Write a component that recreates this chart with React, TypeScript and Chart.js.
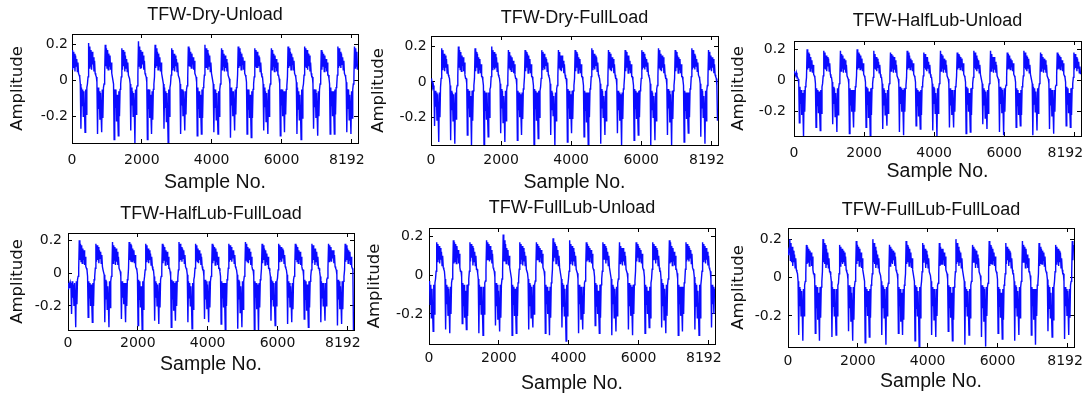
import React, { useEffect, useRef } from 'react';
import { Chart, registerables } from 'chart.js';

Chart.register(...registerables);

// ---------- data ----------
const sampleStep = 17; // samples between stored points
const xTickValues = [0, 2000, 4000, 6000, 8000];
const xTickLabels = ['0', '2000', '4000', '6000', '8192'];
const yTickValues = [-0.2, 0, 0.2];
const yTickLabels = ['-0.2', '0', '0.2'];
const panelTitles = [
  'TFW-Dry-Unload',
  'TFW-Dry-FullLoad',
  'TFW-HalfLub-Unload',
  'TFW-HalfLub-FullLoad',
  'TFW-FullLub-Unload',
  'TFW-FullLub-FullLoad',
];
const xAxisTitle = 'Sample No.';
const yAxisTitle = 'Amplitude';

const dryUnload = [
  0.17, 0.06, 0.16, 0.07, 0.15, 0.05, 0.14, 0.08, 0.12, 0.05, 0.10, 0.04, 0.03, 0.02, -0.02, -0.27, -0.04, -0.14, -0.05, -0.20, -0.06, -0.17, -0.29, -0.05, -0.19, -0.04, -0.02,
  0.02, 0.21, 0.07, 0.19, 0.08, 0.17, 0.06, 0.16, 0.09, 0.13, 0.05, 0.11, 0.04, 0.03, 0.02, -0.01, -0.30, -0.04, -0.16, -0.06, -0.22, -0.07, -0.19, -0.29, -0.05, -0.21, -0.04, -0.02,
  0.03, 0.20, 0.08, 0.18, 0.07, 0.17, 0.06, 0.15, 0.08, 0.14, 0.06, 0.10, 0.04, 0.02, 0.02, -0.02, -0.33, -0.05, -0.15, -0.05, -0.23, -0.08, -0.18, -0.31, -0.06, -0.20, -0.05, -0.02,
  0.02, 0.18, 0.06, 0.17, 0.08, 0.16, 0.05, 0.14, 0.07, 0.12, 0.05, 0.10, 0.03, 0.03, 0.01, -0.02, -0.28, -0.04, -0.14, -0.06, -0.20, -0.07, -0.17, -0.35, -0.05, -0.19, -0.04, -0.03,
  0.03, 0.22, 0.08, 0.19, 0.07, 0.17, 0.07, 0.16, 0.09, 0.14, 0.06, 0.11, 0.04, 0.03, 0.02, -0.01, -0.33, -0.05, -0.16, -0.05, -0.21, -0.08, -0.19, -0.30, -0.06, -0.22, -0.05, -0.02,
  0.02, 0.20, 0.07, 0.18, 0.08, 0.16, 0.06, 0.15, 0.08, 0.13, 0.05, 0.10, 0.04, 0.02, 0.02, -0.02, -0.27, -0.04, -0.15, -0.06, -0.23, -0.07, -0.18, -0.35, -0.05, -0.20, -0.04, -0.02,
  0.03, 0.18, 0.06, 0.17, 0.07, 0.15, 0.05, 0.14, 0.08, 0.12, 0.05, 0.10, 0.03, 0.03, 0.01, -0.02, -0.30, -0.05, -0.14, -0.05, -0.20, -0.06, -0.17, -0.28, -0.06, -0.19, -0.05, -0.03,
  0.02, 0.19, 0.08, 0.18, 0.08, 0.16, 0.07, 0.15, 0.09, 0.13, 0.06, 0.11, 0.04, 0.03, 0.02, -0.01, -0.31, -0.04, -0.16, -0.06, -0.21, -0.08, -0.18, -0.30, -0.05, -0.21, -0.04, -0.02,
  0.03, 0.20, 0.07, 0.18, 0.07, 0.17, 0.06, 0.15, 0.08, 0.14, 0.05, 0.10, 0.04, 0.02, 0.02, -0.02, -0.29, -0.05, -0.15, -0.05, -0.22, -0.07, -0.19, -0.30, -0.06, -0.20, -0.05, -0.02,
  0.02, 0.18, 0.06, 0.17, 0.08, 0.15, 0.05, 0.14, 0.07, 0.12, 0.05, 0.10, 0.03, 0.03, 0.01, -0.02, -0.32, -0.04, -0.14, -0.06, -0.20, -0.06, -0.17, -0.28, -0.05, -0.19, -0.04, -0.03,
  0.03, 0.19, 0.07, 0.18, 0.08, 0.16, 0.06, 0.15, 0.09, 0.13, 0.06, 0.11, 0.04, 0.03, 0.02, -0.01, -0.30, -0.05, -0.16, -0.05, -0.21, -0.08, -0.18, -0.32, -0.06, -0.21, -0.05, -0.02,
  0.02, 0.18, 0.08, 0.17, 0.07, 0.16, 0.07, 0.14, 0.08, 0.13, 0.05, 0.10, 0.04, 0.02, 0.02, -0.02, -0.28, -0.04, -0.15, -0.06, -0.23, -0.07, -0.19, -0.30, -0.05, -0.20, -0.04, -0.02,
  0.03, 0.18, 0.06, 0.17, 0.08, 0.15, 0.05, 0.14, 0.07, 0.12, 0.05, 0.10, 0.03, 0.03, 0.01, -0.02, -0.31, -0.05, -0.14, -0.05, -0.20, -0.06, -0.17, -0.29, -0.06, -0.19, -0.05, -0.03,
  0.02, 0.19, 0.07, 0.18, 0.08, 0.16, 0.06, 0.15, 0.09, 0.13, 0.06, 0.11, 0.04, 0.03, 0.02, -0.01, -0.30, -0.04, -0.16, -0.06, -0.22, -0.08, -0.18, -0.33, -0.05, -0.21, -0.04, -0.02,
  0.03, 0.19, 0.08, 0.18, 0.07, 0.17, 0.06, 0.15, 0.08, 0.14, 0.05, 0.10, 0.04, 0.02, 0.02, -0.02, -0.27, -0.05, -0.15, -0.05, -0.21, -0.07, -0.19, -0.31, -0.06, -0.20, -0.05, -0.02,
  0.02, 0.17, 0.06, 0.16, 0.08, 0.15, 0.05, 0.14, 0.07, 0.12, 0.05, 0.10, 0.03, 0.03, 0.01, -0.02, -0.30, -0.04, -0.14, -0.06, -0.20, -0.06, -0.17, -0.30, -0.05, -0.19, -0.04, -0.03,
  0.03, 0.19, 0.07, 0.18, 0.08, 0.16, 0.07, 0.15, 0.09, 0.13, 0.06, 0.11, 0.04, 0.03, 0.02, -0.01, -0.29, -0.05, -0.16, -0.05, -0.22, -0.08, -0.18, -0.30, -0.06, -0.21, -0.05, -0.02,
  0.02, 0.19, 0.07, 0.18, 0.08, 0.16, 0.06,
];

const dryFullLoad = [
  0.02, 0.01, 0.00, -0.03, -0.02, -0.05, -0.25, -0.05, -0.14, -0.06, -0.22, -0.07, -0.18, -0.34, -0.06, -0.20, -0.03,
  0.02, 0.19, 0.07, 0.18, 0.08, 0.16, 0.06, 0.15, 0.08, 0.13, 0.05, 0.10, 0.04, 0.03, 0.02, -0.02, -0.33, -0.05, -0.16, -0.06, -0.22, -0.07, -0.19, -0.35, -0.06, -0.21, -0.04, -0.02,
  0.03, 0.20, 0.08, 0.18, 0.07, 0.17, 0.06, 0.15, 0.09, 0.14, 0.06, 0.11, 0.04, 0.02, 0.02, -0.01, -0.30, -0.04, -0.15, -0.05, -0.20, -0.08, -0.18, -0.36, -0.05, -0.22, -0.05, -0.02,
  0.02, 0.19, 0.06, 0.17, 0.08, 0.16, 0.05, 0.14, 0.07, 0.13, 0.05, 0.10, 0.03, 0.03, 0.01, -0.02, -0.36, -0.05, -0.16, -0.06, -0.21, -0.06, -0.19, -0.31, -0.06, -0.20, -0.04, -0.03,
  0.03, 0.20, 0.07, 0.18, 0.08, 0.17, 0.07, 0.16, 0.08, 0.14, 0.06, 0.11, 0.04, 0.03, 0.02, -0.01, -0.29, -0.04, -0.15, -0.05, -0.23, -0.08, -0.18, -0.34, -0.05, -0.22, -0.05, -0.02,
  0.02, 0.18, 0.08, 0.17, 0.07, 0.15, 0.06, 0.14, 0.08, 0.12, 0.05, 0.10, 0.04, 0.02, 0.02, -0.02, -0.33, -0.05, -0.16, -0.06, -0.20, -0.07, -0.19, -0.30, -0.06, -0.21, -0.04, -0.02,
  0.03, 0.18, 0.06, 0.17, 0.08, 0.16, 0.05, 0.15, 0.07, 0.13, 0.05, 0.10, 0.03, 0.03, 0.01, -0.02, -0.36, -0.04, -0.15, -0.05, -0.22, -0.06, -0.18, -0.32, -0.05, -0.20, -0.05, -0.03,
  0.02, 0.18, 0.07, 0.17, 0.08, 0.16, 0.07, 0.14, 0.09, 0.13, 0.06, 0.11, 0.04, 0.03, 0.02, -0.01, -0.30, -0.05, -0.16, -0.06, -0.19, -0.08, -0.19, -0.36, -0.06, -0.22, -0.04, -0.02,
  0.03, 0.18, 0.08, 0.17, 0.07, 0.15, 0.06, 0.15, 0.08, 0.12, 0.05, 0.10, 0.04, 0.02, 0.02, -0.02, -0.34, -0.04, -0.15, -0.05, -0.21, -0.07, -0.18, -0.29, -0.05, -0.21, -0.05, -0.02,
  0.02, 0.18, 0.06, 0.17, 0.08, 0.16, 0.05, 0.14, 0.07, 0.13, 0.05, 0.10, 0.03, 0.03, 0.01, -0.02, -0.31, -0.05, -0.16, -0.06, -0.23, -0.06, -0.19, -0.36, -0.06, -0.20, -0.04, -0.03,
  0.03, 0.19, 0.07, 0.18, 0.08, 0.16, 0.07, 0.15, 0.09, 0.14, 0.06, 0.11, 0.04, 0.03, 0.02, -0.01, -0.35, -0.04, -0.15, -0.05, -0.20, -0.08, -0.18, -0.30, -0.05, -0.22, -0.05, -0.02,
  0.02, 0.18, 0.08, 0.17, 0.07, 0.16, 0.06, 0.14, 0.08, 0.13, 0.05, 0.10, 0.04, 0.02, 0.02, -0.02, -0.29, -0.05, -0.16, -0.06, -0.22, -0.07, -0.19, -0.36, -0.06, -0.21, -0.04, -0.02,
  0.03, 0.18, 0.06, 0.17, 0.08, 0.15, 0.05, 0.15, 0.07, 0.12, 0.05, 0.10, 0.03, 0.03, 0.01, -0.02, -0.33, -0.04, -0.15, -0.05, -0.21, -0.06, -0.18, -0.30, -0.05, -0.20, -0.05, -0.03,
  0.02, 0.18, 0.07, 0.17, 0.08, 0.16, 0.07, 0.14, 0.09, 0.13, 0.06, 0.11, 0.04, 0.03, 0.02, -0.01, -0.36, -0.05, -0.16, -0.06, -0.20, -0.08, -0.19, -0.33, -0.06, -0.22, -0.04, -0.02,
  0.03, 0.19, 0.08, 0.18, 0.07, 0.16, 0.06, 0.15, 0.08, 0.14, 0.05, 0.10, 0.04, 0.02, 0.02, -0.02, -0.30, -0.04, -0.15, -0.05, -0.23, -0.07, -0.18, -0.36, -0.05, -0.21, -0.05, -0.02,
  0.02, 0.18, 0.06, 0.17, 0.08, 0.15, 0.05, 0.14, 0.07, 0.13, 0.05, 0.10, 0.03, 0.03, 0.01, -0.02, -0.34, -0.05, -0.16, -0.06, -0.21, -0.06, -0.19, -0.29, -0.06, -0.20, -0.04, -0.03,
  0.03, 0.19, 0.07, 0.18, 0.08, 0.16, 0.07, 0.15, 0.09, 0.13, 0.06, 0.11, 0.04, 0.03, 0.02, -0.01, -0.31, -0.04, -0.15, -0.05, -0.20, -0.08, -0.18, -0.35, -0.05, -0.22, -0.05, -0.02,
  0.02, 0.18, 0.07, 0.17, 0.08, 0.15, 0.06, 0.14, 0.08, 0.13, 0.05, 0.10, 0.04, 0.03, 0.02, -0.02, -0.22,
];

const halfLubUnload = [
  0.06, 0.05, 0.04, 0.03, 0.05, 0.03, 0.02, 0.01, -0.02, -0.27, -0.04, -0.15, -0.06, -0.22, -0.08, -0.19, -0.36, -0.06, -0.20, -0.04, -0.02,
  0.02, 0.20, 0.07, 0.18, 0.08, 0.17, 0.06, 0.15, 0.08, 0.13, 0.05, 0.10, 0.04, 0.03, 0.02, -0.02, -0.30, -0.05, -0.16, -0.06, -0.21, -0.07, -0.19, -0.32, -0.06, -0.21, -0.04, -0.02,
  0.03, 0.19, 0.08, 0.18, 0.07, 0.16, 0.06, 0.15, 0.09, 0.14, 0.06, 0.11, 0.04, 0.02, 0.02, -0.01, -0.28, -0.04, -0.15, -0.05, -0.23, -0.08, -0.18, -0.33, -0.05, -0.22, -0.05, -0.02,
  0.02, 0.19, 0.06, 0.17, 0.08, 0.16, 0.05, 0.14, 0.07, 0.13, 0.05, 0.10, 0.03, 0.03, 0.01, -0.02, -0.34, -0.05, -0.16, -0.06, -0.20, -0.06, -0.19, -0.30, -0.06, -0.20, -0.04, -0.03,
  0.03, 0.20, 0.07, 0.18, 0.08, 0.17, 0.07, 0.16, 0.08, 0.14, 0.06, 0.11, 0.04, 0.03, 0.02, -0.01, -0.30, -0.04, -0.15, -0.05, -0.24, -0.07, -0.18, -0.35, -0.05, -0.22, -0.05, -0.02,
  0.02, 0.19, 0.08, 0.17, 0.07, 0.15, 0.06, 0.14, 0.08, 0.12, 0.05, 0.10, 0.04, 0.02, 0.02, -0.02, -0.31, -0.05, -0.16, -0.06, -0.22, -0.08, -0.19, -0.29, -0.06, -0.21, -0.04, -0.02,
  0.03, 0.18, 0.06, 0.17, 0.08, 0.16, 0.05, 0.15, 0.07, 0.13, 0.05, 0.10, 0.03, 0.03, 0.01, -0.02, -0.33, -0.04, -0.15, -0.05, -0.20, -0.06, -0.18, -0.35, -0.05, -0.20, -0.05, -0.03,
  0.02, 0.19, 0.07, 0.18, 0.08, 0.16, 0.07, 0.14, 0.09, 0.13, 0.06, 0.11, 0.04, 0.03, 0.02, -0.01, -0.29, -0.05, -0.16, -0.06, -0.23, -0.07, -0.19, -0.31, -0.06, -0.22, -0.04, -0.02,
  0.03, 0.18, 0.08, 0.17, 0.07, 0.15, 0.06, 0.15, 0.08, 0.12, 0.05, 0.10, 0.04, 0.02, 0.02, -0.02, -0.32, -0.04, -0.15, -0.05, -0.21, -0.08, -0.18, -0.36, -0.05, -0.21, -0.05, -0.02,
  0.02, 0.19, 0.06, 0.17, 0.08, 0.16, 0.05, 0.14, 0.07, 0.13, 0.05, 0.10, 0.03, 0.03, 0.01, -0.02, -0.30, -0.05, -0.16, -0.06, -0.22, -0.06, -0.19, -0.30, -0.06, -0.20, -0.04, -0.03,
  0.03, 0.18, 0.07, 0.17, 0.08, 0.16, 0.07, 0.15, 0.09, 0.14, 0.06, 0.11, 0.04, 0.03, 0.02, -0.01, -0.34, -0.04, -0.15, -0.05, -0.20, -0.08, -0.18, -0.33, -0.05, -0.22, -0.05, -0.02,
  0.02, 0.19, 0.08, 0.18, 0.07, 0.16, 0.06, 0.14, 0.08, 0.13, 0.05, 0.10, 0.04, 0.02, 0.02, -0.02, -0.28, -0.05, -0.16, -0.06, -0.24, -0.07, -0.19, -0.31, -0.06, -0.21, -0.04, -0.02,
  0.03, 0.19, 0.06, 0.17, 0.08, 0.15, 0.05, 0.15, 0.07, 0.12, 0.05, 0.10, 0.03, 0.03, 0.01, -0.02, -0.33, -0.04, -0.15, -0.05, -0.21, -0.06, -0.18, -0.35, -0.05, -0.20, -0.05, -0.03,
  0.02, 0.18, 0.07, 0.17, 0.08, 0.16, 0.07, 0.14, 0.09, 0.13, 0.06, 0.11, 0.04, 0.03, 0.02, -0.01, -0.30, -0.05, -0.16, -0.06, -0.22, -0.08, -0.19, -0.29, -0.06, -0.22, -0.04, -0.02,
  0.03, 0.19, 0.08, 0.18, 0.07, 0.16, 0.06, 0.15, 0.08, 0.14, 0.05, 0.10, 0.04, 0.02, 0.02, -0.02, -0.35, -0.04, -0.15, -0.05, -0.20, -0.07, -0.18, -0.32, -0.05, -0.21, -0.05, -0.02,
  0.02, 0.18, 0.06, 0.17, 0.08, 0.15, 0.05, 0.14, 0.07, 0.13, 0.05, 0.10, 0.03, 0.03, 0.01, -0.02, -0.31, -0.05, -0.16, -0.06, -0.23, -0.06, -0.19, -0.34, -0.06, -0.20, -0.04, -0.03,
  0.03, 0.18, 0.07, 0.17, 0.08, 0.16, 0.07, 0.15, 0.09, 0.13, 0.06, 0.11, 0.04, 0.03, 0.02, -0.01, -0.29, -0.04, -0.15, -0.05, -0.21, -0.08, -0.18, -0.30, -0.05, -0.22, -0.05, -0.02,
  0.02, 0.18, 0.07, 0.17, 0.08, 0.15, 0.06, 0.14, 0.08, 0.12, 0.05, 0.09, 0.04,
];

const halfLubFullLoad = [
  -0.06, -0.10, -0.07, -0.09, -0.06, -0.08, -0.25, -0.05, -0.15, -0.07, -0.20, -0.06, -0.17, -0.33, -0.05, -0.19, -0.04, -0.02,
  0.02, 0.20, 0.08, 0.18, 0.07, 0.17, 0.06, 0.15, 0.08, 0.14, 0.05, 0.10, 0.04, 0.03, 0.02, -0.02, -0.27, -0.05, -0.15, -0.06, -0.20, -0.07, -0.18, -0.30, -0.06, -0.20, -0.04, -0.02,
  0.03, 0.18, 0.07, 0.17, 0.08, 0.16, 0.06, 0.14, 0.09, 0.13, 0.06, 0.11, 0.04, 0.02, 0.02, -0.01, -0.30, -0.04, -0.16, -0.05, -0.22, -0.08, -0.19, -0.33, -0.05, -0.21, -0.05, -0.02,
  0.02, 0.19, 0.06, 0.17, 0.08, 0.16, 0.05, 0.15, 0.07, 0.13, 0.05, 0.10, 0.03, 0.03, 0.01, -0.02, -0.28, -0.05, -0.15, -0.06, -0.19, -0.06, -0.18, -0.30, -0.06, -0.20, -0.04, -0.03,
  0.03, 0.19, 0.08, 0.18, 0.07, 0.17, 0.07, 0.15, 0.08, 0.14, 0.06, 0.11, 0.04, 0.03, 0.02, -0.01, -0.32, -0.04, -0.16, -0.05, -0.21, -0.08, -0.19, -0.36, -0.05, -0.22, -0.05, -0.02,
  0.02, 0.18, 0.07, 0.17, 0.08, 0.15, 0.06, 0.14, 0.08, 0.12, 0.05, 0.10, 0.04, 0.02, 0.02, -0.02, -0.29, -0.05, -0.15, -0.06, -0.20, -0.07, -0.18, -0.31, -0.06, -0.21, -0.04, -0.02,
  0.03, 0.18, 0.06, 0.17, 0.08, 0.16, 0.05, 0.14, 0.07, 0.13, 0.05, 0.10, 0.03, 0.03, 0.01, -0.02, -0.33, -0.04, -0.16, -0.05, -0.23, -0.06, -0.19, -0.29, -0.05, -0.20, -0.05, -0.03,
  0.02, 0.19, 0.07, 0.18, 0.08, 0.16, 0.07, 0.15, 0.09, 0.14, 0.06, 0.11, 0.04, 0.03, 0.02, -0.01, -0.30, -0.05, -0.15, -0.06, -0.20, -0.08, -0.18, -0.34, -0.06, -0.22, -0.04, -0.02,
  0.03, 0.18, 0.08, 0.17, 0.07, 0.15, 0.06, 0.14, 0.08, 0.12, 0.05, 0.10, 0.04, 0.02, 0.02, -0.02, -0.28, -0.04, -0.16, -0.05, -0.22, -0.07, -0.19, -0.30, -0.05, -0.21, -0.05, -0.02,
  0.02, 0.18, 0.06, 0.17, 0.08, 0.16, 0.05, 0.15, 0.07, 0.13, 0.05, 0.10, 0.03, 0.03, 0.01, -0.02, -0.31, -0.05, -0.15, -0.06, -0.21, -0.06, -0.18, -0.35, -0.06, -0.20, -0.04, -0.03,
  0.03, 0.18, 0.07, 0.17, 0.08, 0.16, 0.07, 0.14, 0.09, 0.14, 0.06, 0.11, 0.04, 0.03, 0.02, -0.01, -0.34, -0.04, -0.16, -0.05, -0.24, -0.08, -0.19, -0.33, -0.05, -0.22, -0.05, -0.02,
  0.02, 0.19, 0.08, 0.18, 0.07, 0.16, 0.06, 0.15, 0.08, 0.13, 0.05, 0.10, 0.04, 0.02, 0.02, -0.02, -0.35, -0.05, -0.15, -0.06, -0.22, -0.07, -0.18, -0.36, -0.06, -0.21, -0.04, -0.02,
  0.03, 0.18, 0.06, 0.17, 0.08, 0.15, 0.05, 0.14, 0.07, 0.12, 0.05, 0.10, 0.03, 0.03, 0.01, -0.02, -0.29, -0.04, -0.16, -0.05, -0.20, -0.06, -0.19, -0.32, -0.05, -0.20, -0.05, -0.03,
  0.02, 0.18, 0.07, 0.17, 0.08, 0.16, 0.07, 0.15, 0.09, 0.14, 0.06, 0.11, 0.04, 0.03, 0.02, -0.01, -0.31, -0.05, -0.15, -0.06, -0.21, -0.08, -0.18, -0.30, -0.06, -0.22, -0.04, -0.02,
  0.03, 0.18, 0.08, 0.17, 0.07, 0.16, 0.06, 0.14, 0.08, 0.13, 0.05, 0.10, 0.04, 0.02, 0.02, -0.02, -0.28, -0.04, -0.16, -0.05, -0.23, -0.07, -0.19, -0.33, -0.05, -0.21, -0.05, -0.02,
  0.02, 0.18, 0.06, 0.17, 0.08, 0.15, 0.05, 0.15, 0.07, 0.13, 0.05, 0.10, 0.03, 0.03, 0.01, -0.02, -0.30, -0.05, -0.15, -0.06, -0.20, -0.06, -0.18, -0.29, -0.06, -0.20, -0.04, -0.03,
  0.03, 0.18, 0.07, 0.17, 0.08, 0.16, 0.07, 0.14, 0.09, 0.14, 0.06, 0.11, 0.04, 0.03, 0.02, -0.01, -0.32, -0.04, -0.16, -0.05, -0.22, -0.08, -0.19, -0.31, -0.05, -0.22, -0.05, -0.02,
  0.02, 0.18, 0.07, 0.17, 0.08, 0.15, 0.06, 0.14, 0.08, 0.13, 0.05, 0.10, 0.04, 0.03, 0.02, -0.36,
];

const fullLubUnload = [
  -0.03, -0.06, -0.15, -0.05, -0.22, -0.07, -0.18, -0.29, -0.05, -0.20, -0.04, -0.02,
  0.02, 0.17, 0.07, 0.16, 0.08, 0.15, 0.06, 0.14, 0.08, 0.12, 0.05, 0.10, 0.04, 0.03, 0.02, -0.02, -0.28, -0.05, -0.15, -0.06, -0.21, -0.07, -0.18, -0.30, -0.06, -0.20, -0.04, -0.02,
  0.03, 0.18, 0.06, 0.17, 0.07, 0.16, 0.06, 0.15, 0.09, 0.13, 0.06, 0.11, 0.04, 0.02, 0.02, -0.01, -0.25, -0.04, -0.16, -0.05, -0.22, -0.08, -0.19, -0.28, -0.05, -0.21, -0.05, -0.02,
  0.02, 0.17, 0.07, 0.16, 0.09, 0.15, 0.05, 0.14, 0.07, 0.12, 0.05, 0.10, 0.03, 0.03, 0.01, -0.02, -0.30, -0.05, -0.15, -0.06, -0.20, -0.06, -0.18, -0.31, -0.06, -0.20, -0.04, -0.03,
  0.03, 0.18, 0.08, 0.17, 0.08, 0.16, 0.07, 0.15, 0.08, 0.13, 0.06, 0.11, 0.04, 0.03, 0.02, -0.01, -0.26, -0.04, -0.16, -0.05, -0.23, -0.08, -0.19, -0.29, -0.05, -0.22, -0.05, -0.02,
  0.02, 0.21, 0.07, 0.18, 0.07, 0.16, 0.06, 0.14, 0.08, 0.13, 0.05, 0.10, 0.04, 0.02, 0.02, -0.02, -0.31, -0.05, -0.15, -0.06, -0.21, -0.07, -0.18, -0.30, -0.06, -0.21, -0.04, -0.02,
  0.03, 0.17, 0.06, 0.16, 0.08, 0.15, 0.05, 0.14, 0.07, 0.12, 0.05, 0.10, 0.03, 0.03, 0.01, -0.02, -0.28, -0.04, -0.16, -0.05, -0.22, -0.06, -0.19, -0.27, -0.05, -0.20, -0.05, -0.03,
  0.02, 0.17, 0.08, 0.16, 0.08, 0.15, 0.07, 0.14, 0.09, 0.13, 0.06, 0.11, 0.04, 0.03, 0.02, -0.01, -0.30, -0.05, -0.15, -0.06, -0.20, -0.08, -0.18, -0.31, -0.06, -0.22, -0.04, -0.02,
  0.03, 0.19, 0.07, 0.17, 0.09, 0.16, 0.06, 0.15, 0.08, 0.13, 0.05, 0.10, 0.04, 0.02, 0.02, -0.02, -0.27, -0.04, -0.16, -0.05, -0.21, -0.07, -0.19, -0.34, -0.05, -0.21, -0.05, -0.02,
  0.02, 0.18, 0.06, 0.16, 0.07, 0.15, 0.05, 0.14, 0.07, 0.12, 0.05, 0.10, 0.03, 0.03, 0.01, -0.02, -0.30, -0.05, -0.15, -0.06, -0.23, -0.06, -0.18, -0.28, -0.06, -0.20, -0.04, -0.03,
  0.03, 0.17, 0.07, 0.16, 0.08, 0.15, 0.07, 0.14, 0.09, 0.13, 0.06, 0.11, 0.04, 0.03, 0.02, -0.01, -0.26, -0.04, -0.16, -0.05, -0.20, -0.08, -0.19, -0.30, -0.05, -0.22, -0.05, -0.02,
  0.02, 0.17, 0.08, 0.16, 0.08, 0.15, 0.06, 0.14, 0.08, 0.12, 0.05, 0.10, 0.04, 0.02, 0.02, -0.02, -0.31, -0.05, -0.15, -0.06, -0.22, -0.07, -0.18, -0.29, -0.06, -0.21, -0.04, -0.02,
  0.03, 0.17, 0.06, 0.15, 0.07, 0.14, 0.05, 0.14, 0.07, 0.12, 0.05, 0.10, 0.03, 0.03, 0.01, -0.02, -0.28, -0.04, -0.16, -0.05, -0.21, -0.06, -0.19, -0.31, -0.05, -0.20, -0.05, -0.03,
  0.02, 0.17, 0.07, 0.16, 0.09, 0.15, 0.07, 0.14, 0.09, 0.13, 0.06, 0.11, 0.04, 0.03, 0.02, -0.01, -0.30, -0.05, -0.15, -0.06, -0.20, -0.08, -0.18, -0.27, -0.06, -0.22, -0.04, -0.02,
  0.03, 0.17, 0.08, 0.16, 0.08, 0.15, 0.06, 0.14, 0.08, 0.13, 0.05, 0.10, 0.04, 0.02, 0.02, -0.02, -0.27, -0.04, -0.16, -0.05, -0.23, -0.07, -0.19, -0.30, -0.05, -0.21, -0.05, -0.02,
  0.02, 0.18, 0.06, 0.17, 0.07, 0.15, 0.05, 0.14, 0.07, 0.12, 0.05, 0.10, 0.03, 0.03, 0.01, -0.02, -0.31, -0.05, -0.15, -0.06, -0.21, -0.06, -0.18, -0.29, -0.06, -0.20, -0.04, -0.03,
  0.03, 0.17, 0.07, 0.16, 0.08, 0.15, 0.07, 0.14, 0.09, 0.13, 0.06, 0.11, 0.04, 0.03, 0.02, -0.01, -0.28, -0.04, -0.16, -0.05, -0.22, -0.08, -0.19, -0.31, -0.05, -0.22, -0.05, -0.02,
  0.02, 0.17, 0.07, 0.16, 0.08, 0.15, 0.06, 0.14, 0.08, 0.12, 0.05, 0.10, 0.04, 0.03, 0.02, -0.02, -0.27, -0.05, -0.15, -0.06, -0.20, -0.07,
];

const fullLubFullLoad = [
  0.12, 0.14,
  0.13, 0.20, 0.09, 0.18, 0.08, 0.16, 0.06, 0.14, 0.08, 0.12, 0.05, 0.10, 0.04, 0.03, 0.02, -0.02, -0.30, -0.05, -0.15, -0.06, -0.20, -0.07, -0.18, -0.33, -0.06, -0.20, -0.04, -0.02,
  0.02, 0.17, 0.07, 0.16, 0.08, 0.15, 0.06, 0.14, 0.09, 0.13, 0.06, 0.11, 0.04, 0.02, 0.02, -0.01, -0.29, -0.04, -0.16, -0.05, -0.22, -0.08, -0.19, -0.33, -0.05, -0.21, -0.05, -0.02,
  0.03, 0.20, 0.08, 0.18, 0.07, 0.17, 0.05, 0.15, 0.07, 0.13, 0.05, 0.10, 0.03, 0.03, 0.01, -0.02, -0.31, -0.05, -0.15, -0.06, -0.20, -0.06, -0.18, -0.30, -0.06, -0.20, -0.04, -0.03,
  0.02, 0.17, 0.06, 0.16, 0.08, 0.15, 0.07, 0.14, 0.08, 0.13, 0.06, 0.11, 0.04, 0.03, 0.02, -0.01, -0.28, -0.04, -0.16, -0.05, -0.23, -0.08, -0.19, -0.33, -0.05, -0.22, -0.05, -0.02,
  0.03, 0.19, 0.07, 0.17, 0.09, 0.16, 0.06, 0.15, 0.08, 0.13, 0.05, 0.10, 0.04, 0.02, 0.02, -0.02, -0.34, -0.05, -0.15, -0.06, -0.20, -0.07, -0.18, -0.31, -0.06, -0.21, -0.04, -0.02,
  0.02, 0.20, 0.08, 0.18, 0.07, 0.16, 0.05, 0.14, 0.07, 0.12, 0.05, 0.10, 0.03, 0.03, 0.01, -0.02, -0.30, -0.04, -0.16, -0.05, -0.21, -0.06, -0.19, -0.35, -0.05, -0.20, -0.05, -0.03,
  0.03, 0.17, 0.06, 0.16, 0.08, 0.15, 0.07, 0.14, 0.09, 0.13, 0.06, 0.11, 0.04, 0.03, 0.02, -0.01, -0.29, -0.05, -0.15, -0.06, -0.23, -0.08, -0.18, -0.30, -0.06, -0.22, -0.04, -0.02,
  0.02, 0.19, 0.07, 0.17, 0.08, 0.16, 0.06, 0.15, 0.08, 0.13, 0.05, 0.10, 0.04, 0.02, 0.02, -0.02, -0.33, -0.04, -0.16, -0.05, -0.20, -0.07, -0.19, -0.36, -0.05, -0.21, -0.05, -0.02,
  0.03, 0.18, 0.08, 0.17, 0.09, 0.15, 0.05, 0.14, 0.07, 0.12, 0.05, 0.10, 0.03, 0.03, 0.01, -0.02, -0.30, -0.05, -0.15, -0.06, -0.22, -0.06, -0.18, -0.31, -0.06, -0.20, -0.04, -0.03,
  0.02, 0.18, 0.06, 0.16, 0.07, 0.15, 0.07, 0.15, 0.09, 0.13, 0.06, 0.11, 0.04, 0.03, 0.02, -0.01, -0.28, -0.04, -0.16, -0.05, -0.21, -0.08, -0.19, -0.33, -0.05, -0.22, -0.05, -0.02,
  0.03, 0.20, 0.07, 0.18, 0.08, 0.16, 0.06, 0.14, 0.08, 0.13, 0.05, 0.10, 0.04, 0.02, 0.02, -0.02, -0.35, -0.05, -0.15, -0.06, -0.20, -0.07, -0.18, -0.30, -0.06, -0.21, -0.04, -0.02,
  0.02, 0.17, 0.08, 0.16, 0.08, 0.15, 0.05, 0.14, 0.07, 0.12, 0.05, 0.10, 0.03, 0.03, 0.01, -0.02, -0.31, -0.04, -0.16, -0.05, -0.23, -0.06, -0.19, -0.36, -0.05, -0.20, -0.05, -0.03,
  0.03, 0.19, 0.06, 0.17, 0.07, 0.16, 0.07, 0.15, 0.09, 0.13, 0.06, 0.11, 0.04, 0.03, 0.02, -0.01, -0.29, -0.05, -0.15, -0.06, -0.21, -0.08, -0.18, -0.32, -0.06, -0.22, -0.04, -0.02,
  0.02, 0.18, 0.07, 0.16, 0.09, 0.15, 0.06, 0.14, 0.08, 0.13, 0.05, 0.10, 0.04, 0.02, 0.02, -0.02, -0.33, -0.04, -0.16, -0.05, -0.20, -0.07, -0.19, -0.30, -0.05, -0.21, -0.05, -0.02,
  0.03, 0.19, 0.08, 0.17, 0.08, 0.16, 0.05, 0.15, 0.07, 0.12, 0.05, 0.10, 0.03, 0.03, 0.01, -0.02, -0.30, -0.05, -0.15, -0.06, -0.22, -0.06, -0.18, -0.35, -0.06, -0.20, -0.04, -0.03,
  0.02, 0.18, 0.06, 0.16, 0.07, 0.15, 0.07, 0.14, 0.09, 0.13, 0.06, 0.11, 0.04, 0.03, 0.02, -0.01, -0.28, -0.04, -0.16, -0.05, -0.21, -0.08, -0.19, -0.31, -0.05, -0.22, -0.05, -0.02,
  0.03, 0.17, 0.07, 0.16, 0.08, 0.15, 0.06, 0.14, 0.08, 0.13, 0.05, 0.10, 0.04, 0.02, 0.02, -0.02, -0.32, -0.05, -0.15, -0.06, -0.20, -0.07, -0.18, -0.30, -0.06, -0.21, -0.04, -0.02,
  0.02, 0.19, 0.09, 0.17,
];

const panelSeries = [dryUnload, dryFullLoad, halfLubUnload, halfLubFullLoad, fullLubUnload, fullLubFullLoad];

// ---------- layout / style ----------
const TEXT = '#111111';
const LINE = '#0a0aff';
const SANS = "'Liberation Sans', Arial, Helvetica, sans-serif";
const WIDE = "'DejaVu Sans', Verdana, sans-serif";
const TITLE_SIZE = 18;
const XT_SIZE = 19.5;
const YT_SIZE = 16.5;
const TICK_SIZE = 14;

type Layout = {
  l: number; r: number; t: number; b: number;
  cl: number; ct: number; ch: number;
  yMin: number; yMax: number;
  xPad: number; yPad: number; tPadTop: number; lastPad: number;
};

const layouts: Layout[] = [
  { l: 72, r: 358, t: 34, b: 143, cl: 8, ct: 4, ch: 190, yMin: -0.35, yMax: 0.26, xPad: 12.6, yPad: 8, tPadTop: 0.2, lastPad: 2 },
  { l: 431, r: 718, t: 36, b: 145, cl: 369, ct: 7, ch: 187, yMin: -0.357, yMax: 0.26, xPad: 10.9, yPad: 8.3, tPadTop: 0.5, lastPad: 2 },
  { l: 794, r: 1081, t: 41, b: 136, cl: 729, ct: 10, ch: 173, yMin: -0.355, yMax: 0.253, xPad: 12.6, yPad: 12, tPadTop: 0.4, lastPad: 4 },
  { l: 68, r: 354, t: 233, b: 330, cl: 8, ct: 203, ch: 173, yMin: -0.347, yMax: 0.245, xPad: 8.9, yPad: 10, tPadTop: 0.5, lastPad: 2 },
  { l: 429, r: 715, t: 228, b: 344, cl: 365, ct: 197, ch: 198, yMin: -0.355, yMax: 0.243, xPad: 9.6, yPad: 9.7, tPadTop: 0.2, lastPad: 2 },
  { l: 788, r: 1074, t: 228, b: 347, cl: 729, ct: 199, ch: 194, yMin: -0.362, yMax: 0.258, xPad: 9.9, yPad: 10, tPadTop: 0.2, lastPad: 1 },
];

function Panel({ index }: { index: number }) {
  const ref = useRef<HTMLCanvasElement>(null);
  const p = layouts[index];
  const W = p.l - p.cl;
  const cw = p.r - p.l + 2 * W;

  useEffect(() => {
    if (!ref.current) return;
    const values = panelSeries[index];
    const titleLine = TITLE_SIZE * 1.2;
    const tPadBottom = p.t - p.ct - p.tPadTop - titleLine;
    const H = p.ct + p.ch - p.b;
    const lastIdx = xTickLabels.length - 1;

    const grid = {
      display: true,
      drawOnChartArea: false,
      drawTicks: true,
      tickLength: -4,
      color: '#000000',
      lineWidth: 1,
    };
    const border = { display: true, color: '#000000', width: 1 };
    const setX = (s: any) => {
      s.ticks = xTickValues.map((v) => ({ value: v }));
    };
    const setY = (s: any) => {
      s.ticks = yTickValues.map((v) => ({ value: v }));
    };

    const chart = new Chart(ref.current, {
      type: 'line',
      data: {
        datasets: [
          {
            data: values.map((v, i) => ({ x: i * sampleStep, y: v })),
            borderColor: LINE,
            borderWidth: 1.4,
            pointRadius: 0,
            tension: 0,
            fill: false,
          },
        ],
      },
      options: {
        animation: false,
        responsive: false,
        maintainAspectRatio: false,
        devicePixelRatio: 1,
        layout: { padding: 0 },
        plugins: {
          legend: { display: false },
          tooltip: { enabled: false },
          title: {
            display: true,
            text: panelTitles[index],
            color: TEXT,
            font: { family: SANS, size: TITLE_SIZE, weight: 'normal' },
            padding: { top: p.tPadTop, bottom: tPadBottom },
          },
        },
        scales: {
          x: {
            type: 'linear',
            position: 'bottom',
            min: 0,
            max: 8192,
            afterBuildTicks: setX,
            afterFit: (s: any) => {
              s.height = H;
            },
            grid,
            border,
            ticks: {
              autoSkip: false,
              maxRotation: 0,
              minRotation: 0,
              padding: p.xPad,
              color: TEXT,
              font: { family: WIDE, size: TICK_SIZE },
              callback: (_v: any, i: number) =>
                xTickLabels[i] + (i === lastIdx ? '\u00a0'.repeat(p.lastPad) : ''),
            },
            title: {
              display: true,
              text: xAxisTitle,
              color: TEXT,
              font: { family: SANS, size: XT_SIZE },
              padding: 0,
            },
          },
          xTop: {
            type: 'linear',
            position: 'top',
            min: 0,
            max: 8192,
            afterBuildTicks: setX,
            afterFit: (s: any) => {
              s.height = 0;
            },
            grid,
            border,
            ticks: { display: false },
          },
          y: {
            type: 'linear',
            position: 'left',
            min: p.yMin,
            max: p.yMax,
            afterBuildTicks: setY,
            afterFit: (s: any) => {
              s.width = W;
            },
            grid,
            border,
            ticks: {
              padding: p.yPad,
              color: TEXT,
              font: { family: WIDE, size: TICK_SIZE },
              callback: (_v: any, i: number) => yTickLabels[i],
            },
            title: {
              display: true,
              text: yAxisTitle,
              color: TEXT,
              font: { family: WIDE, size: YT_SIZE },
              padding: 0,
            },
          },
          yRight: {
            type: 'linear',
            position: 'right',
            min: p.yMin,
            max: p.yMax,
            afterBuildTicks: setY,
            afterFit: (s: any) => {
              s.width = W;
            },
            grid,
            border,
            ticks: { display: false },
          },
        },
      },
    } as any);
    return () => chart.destroy();
  }, [index]);

  return (
    <canvas
      ref={ref}
      width={cw}
      height={p.ch}
      style={{ position: 'absolute', left: p.cl, top: p.ct, width: cw, height: p.ch }}
    />
  );
}

export default function App() {
  return (
    <div
      style={{
        position: 'absolute',
        left: 0,
        top: 0,
        width: 1085,
        height: 398,
        overflow: 'hidden',
        background: '#ffffff',
      }}
    >
      {layouts.map((_, i) => (
        <Panel key={i} index={i} />
      ))}
    </div>
  );
}
